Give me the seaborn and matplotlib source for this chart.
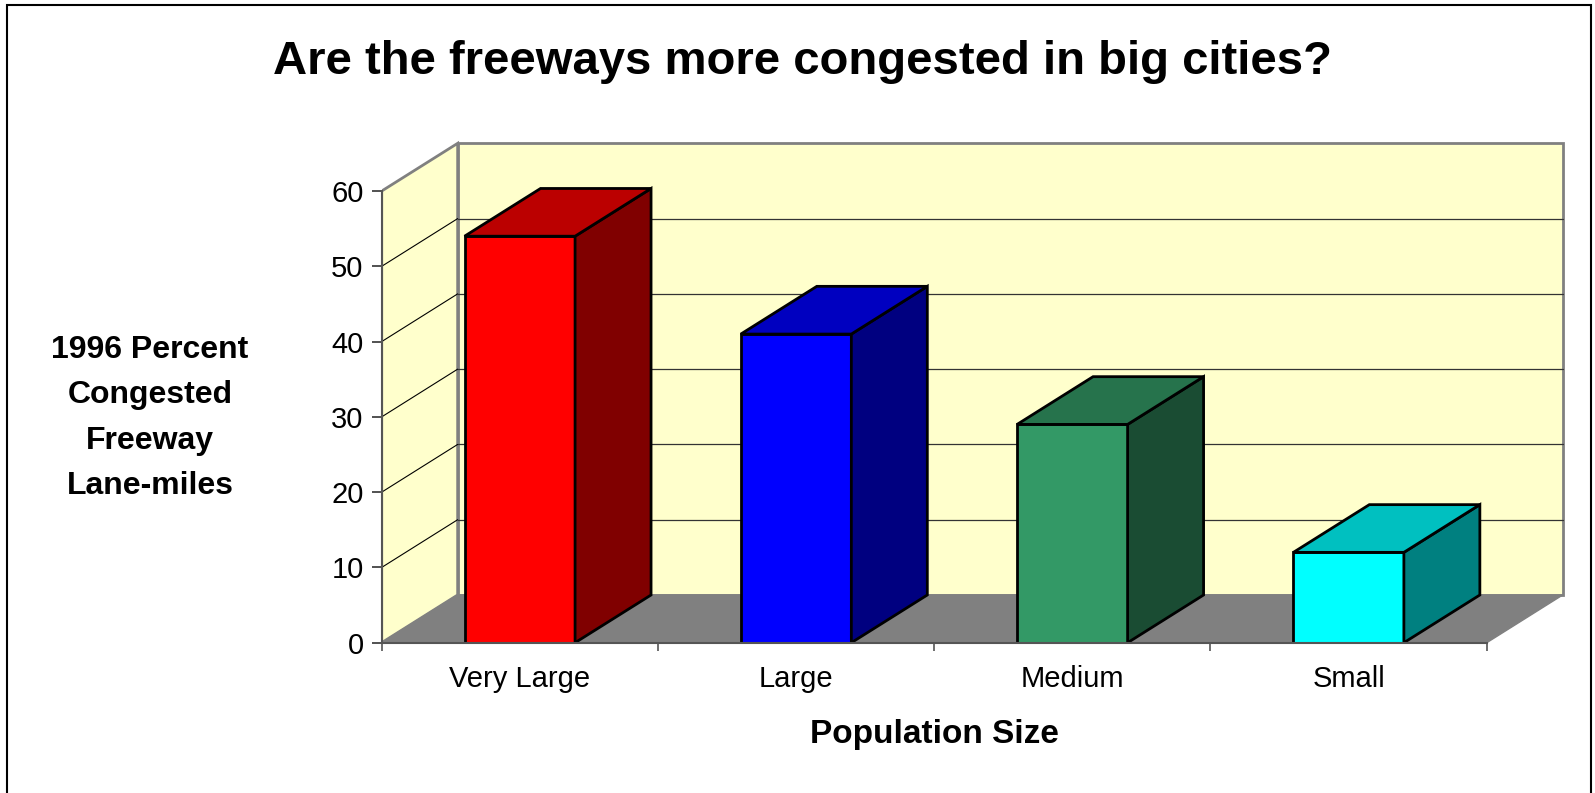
"""
3D-style column chart: freeway congestion by city size
"""

import numpy as np
import pandas as pd
import matplotlib
matplotlib.use("Agg")
import matplotlib.pyplot as plt
from matplotlib.patches import Polygon, Rectangle
import seaborn as sns

# Data
categories = ["Very Large", "Large", "Medium", "Small"]
values = [54, 41, 29, 12]
yticks = [0, 10, 20, 30, 40, 50, 60]

# Face colours (front, top, side)
front_colors = ["#FF0000", "#0000FF", "#339966", "#00FFFF"]
top_colors = ["#BB0000", "#0000C0", "#26734C", "#00C0C0"]
side_colors = ["#800000", "#000080", "#1A4C33", "#008080"]

WALL = "#FFFFCC"
FLOOR = "#808080"
EDGE = "#808080"

# depth offset of the 3D box, in data units
DX = 0.275
DY = 6.34
YMAX = yticks[-1]

sns.set_style("white")
plt.rcParams["font.family"] = ["Liberation Sans", "DejaVu Sans"]
plt.rcParams["text.color"] = "black"
plt.rcParams["xtick.color"] = "black"
plt.rcParams["ytick.color"] = "black"

df = pd.DataFrame({"size": categories, "pct": values})

fig = plt.figure(figsize=(15.95, 7.93), dpi=100)
ax = fig.add_axes([0.2393, 0.18953, 0.7448, 0.6455])

n = len(categories)
x0, x1 = -0.5, n - 0.5

# Walls and floor
back = Polygon([(x0 + DX, DY), (x1 + DX, DY), (x1 + DX, YMAX + DY), (x0 + DX, YMAX + DY)],
               closed=True, facecolor=WALL, edgecolor=EDGE, lw=2, zorder=0.5)
left = Polygon([(x0, 0), (x0 + DX, DY), (x0 + DX, YMAX + DY), (x0, YMAX)],
               closed=True, facecolor=WALL, edgecolor=EDGE, lw=2, zorder=0.5)
floor = Polygon([(x0, 0), (x1, 0), (x1 + DX, DY), (x0 + DX, DY)],
                closed=True, facecolor=FLOOR, edgecolor=FLOOR, lw=1, zorder=0.6)
ax.add_patch(back)
ax.add_patch(left)
ax.add_patch(floor)

# Gridlines on back wall and left wall
for v in yticks[1:-1]:
    ax.plot([x0 + DX, x1 + DX], [v + DY, v + DY], color="#333333", lw=0.9, zorder=0.7)
    ax.plot([x0, x0 + DX], [v, v + DY], color="black", lw=0.8, zorder=0.7)

# Front faces through seaborn
sns.barplot(data=df, x="size", y="pct", hue="size", palette=front_colors,
            legend=False, width=0.4, saturation=1, errorbar=None,
            edgecolor="black", linewidth=2, ax=ax, zorder=2)

bars = [p for p in ax.patches if p not in (back, left, floor)]
for bar, tc, sc in zip(bars, top_colors, side_colors):
    bx0 = bar.get_x()
    bx1 = bx0 + bar.get_width()
    h = bar.get_height()
    top = Polygon([(bx0, h), (bx1, h), (bx1 + DX, h + DY), (bx0 + DX, h + DY)],
                  closed=True, facecolor=tc, edgecolor="black", lw=2, zorder=2,
                  joinstyle="miter")
    side = Polygon([(bx1, 0), (bx1 + DX, DY), (bx1 + DX, h + DY), (bx1, h)],
                   closed=True, facecolor=sc, edgecolor="black", lw=2, zorder=2,
                   joinstyle="miter")
    ax.add_patch(side)
    ax.add_patch(top)

ax.set_xlim(x0, x1 + 0.3)
ax.set_ylim(0, 68)

# Axes
for s in ["top", "right"]:
    ax.spines[s].set_visible(False)
ax.spines["left"].set_bounds(0, YMAX)
ax.spines["bottom"].set_bounds(x0, x1)
ax.spines["left"].set_color("#555555")
ax.spines["bottom"].set_color("#555555")
ax.spines["left"].set_linewidth(1.5)
ax.spines["bottom"].set_linewidth(1.5)

ax.set_yticks(yticks)
ax.set_yticklabels([str(t) for t in yticks])
ax.set_xticks(range(n))
ax.set_xticklabels(categories)
ax.set_xticks(np.arange(n + 1) - 0.5, minor=True)
ax.tick_params(axis="y", which="major", direction="out", length=7, width=1.2,
               color="#333333", pad=6, labelsize=21, left=True, labelcolor="black")
ax.tick_params(axis="x", which="major", length=0, pad=16, labelsize=21,
               labelcolor="black")
ax.tick_params(axis="x", which="minor", direction="out", length=6, width=1.2,
               color="#555555", bottom=True)
ax.set_xlabel("")
ax.set_ylabel("")
ax.patch.set_alpha(0)

# Labels
fig.text(0.5034, 1 - 62 / 793, "Are the freeways more congested in big cities?",
         ha="center", va="center", fontsize=34, fontweight="bold", color="black")
fig.text(150 / 1595, 1 - 418 / 793, "1996 Percent\nCongested\nFreeway\nLane-miles",
         ha="center", va="center", multialignment="center", fontsize=23,
         fontweight="bold", linespacing=1.66, color="black")
fig.text(934 / 1595, 1 - 735 / 793, "Population Size",
         ha="center", va="center", fontsize=24, fontweight="bold", color="black")

# Outer frame
fig.add_artist(Rectangle((7.3 / 1595, -0.05), (1591 - 7.3) / 1595, 1.05 - 4.7 / 793,
                         transform=fig.transFigure, fill=False, edgecolor="black", lw=1.5))

fig.savefig("out.png", dpi=100)
plt.close()
